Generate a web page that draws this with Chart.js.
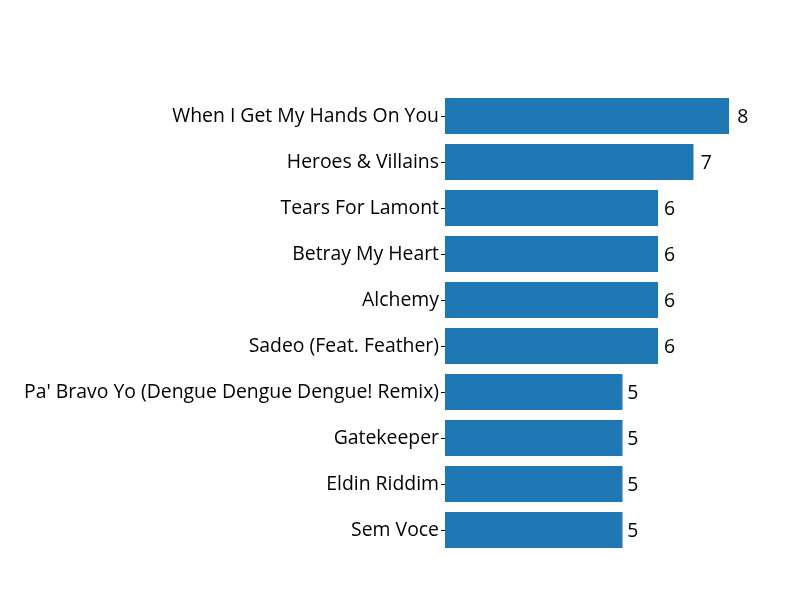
<!DOCTYPE html>
<html>
<head>
<meta charset="utf-8">
<script src="https://cdn.jsdelivr.net/npm/chart.js@4/dist/chart.umd.min.js"></script>
<style>
html,body{margin:0;padding:0;background:#fff;}
#wrap{width:800px;height:600px;}
</style>
</head>
<body>
<div id="wrap"><canvas id="c" width="800" height="600"></canvas></div>
<script>
const categories = [
  "When I Get My Hands On You",
  "Heroes & Villains",
  "Tears For Lamont",
  "Betray My Heart",
  "Alchemy",
  "Sadeo (Feat. Feather)",
  "Pa' Bravo Yo (Dengue Dengue Dengue! Remix)",
  "Gatekeeper",
  "Eldin Riddim",
  "Sem Voce"
];
const counts = [8, 7, 6, 6, 6, 6, 5, 5, 5, 5];

const FONT = "'Open Sans', 'Noto Sans', sans-serif";

const valueLabels = {
  id: 'valueLabels',
  afterDatasetsDraw(chart) {
    const ctx = chart.ctx;
    const meta = chart.getDatasetMeta(0);
    const xs = chart.scales.x;
    ctx.save();
    ctx.font = "19.4px " + FONT;
    ctx.fillStyle = '#000';
    ctx.textAlign = 'left';
    ctx.textBaseline = 'middle';
    meta.data.forEach((bar, i) => {
      ctx.fillText(String(counts[i]), xs.getPixelForValue(counts[i] * 1.033) - 1, bar.y + 1);
    });
    ctx.restore();
  }
};

new Chart(document.getElementById('c'), {
  type: 'bar',
  data: {
    labels: categories,
    datasets: [{
      data: counts,
      backgroundColor: '#1f77b4',
      borderWidth: 0,
      categoryPercentage: 1,
      barPercentage: 0.78
    }]
  },
  options: {
    indexAxis: 'y',
    responsive: false,
    animation: false,
    devicePixelRatio: 1,
    layout: { padding: { left: 0, right: 35.5, top: 93, bottom: 47 } },
    plugins: { legend: { display: false }, tooltip: { enabled: false } },
    scales: {
      x: {
        display: false,
        min: 0,
        max: 9
      },
      y: {
        afterFit(scale) { scale.width = 445; },
        border: { display: false },
        grid: {
          offset: false,
          drawOnChartArea: false,
          drawTicks: true,
          tickLength: 4,
          color: '#000',
          lineWidth: 1
        },
        ticks: {
          color: '#000',
          padding: 2,
          font: { family: FONT, size: 19.4 }
        }
      }
    }
  },
  plugins: [valueLabels]
});
</script>
</body>
</html>
